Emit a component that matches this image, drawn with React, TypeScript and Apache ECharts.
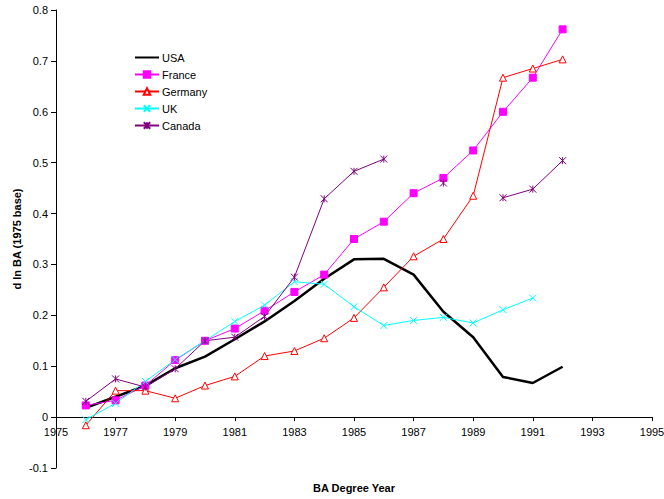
import React, { useEffect, useRef } from "react";
import * as echarts from "echarts";

const years = [1976, 1977, 1978, 1979, 1980, 1981, 1982, 1983, 1984, 1985, 1986, 1987, 1988, 1989, 1990, 1991, 1992];
const usa = [0.018, 0.04, 0.062, 0.096, 0.119, 0.153, 0.188, 0.228, 0.272, 0.31, 0.311, 0.28, 0.207, 0.157, 0.079, 0.067, 0.099];
const france = [0.023, 0.033, 0.062, 0.112, 0.15, 0.174, 0.209, 0.246, 0.28, 0.35, 0.384, 0.44, 0.47, 0.524, 0.6, 0.667, 0.762];
const germany = [-0.016, 0.052, 0.052, 0.037, 0.062, 0.08, 0.12, 0.13, 0.155, 0.195, 0.255, 0.316, 0.35, 0.435, 0.667, 0.685, 0.703];
const uk = [-0.005, 0.027, 0.07, 0.113, 0.15, 0.188, 0.22, 0.266, 0.261, 0.217, 0.18, 0.19, 0.196, 0.185, 0.211, 0.234, null];
const canada = [0.031, 0.075, 0.059, 0.095, 0.15, 0.157, 0.198, 0.275, 0.429, 0.483, 0.507, null, 0.46, null, 0.431, 0.448, 0.504];

const FONT = "'Liberation Sans', Arial, sans-serif";

const GRID_TOP = 10;
const GRID_BOTTOM = 31;
const CHART_H = 499;
const Y_MIN = -0.1;
const Y_MAX = 0.8;

function pairs(vals: (number | null)[]) {
  return years.map((y, i) => [y, vals[i] === null ? "-" : vals[i]]);
}

export default function App() {
  const ref = useRef<HTMLDivElement>(null);
  useEffect(() => {
    if (!ref.current) return;
    const chart = echarts.init(ref.current, undefined, { renderer: "svg" });
    const gridH = CHART_H - GRID_TOP - GRID_BOTTOM;
    const zeroOffset = -(gridH * (0 - Y_MIN)) / (Y_MAX - Y_MIN);
    const mk = (
      name: string,
      vals: (number | null)[],
      color: string,
      symbol: string,
      symbolSize: number,
      width: number,
      fill?: string
    ) => ({
      name,
      type: "line",
      data: pairs(vals),
      symbol,
      symbolSize,
      showSymbol: symbol !== "none",
      showAllSymbol: true,
      connectNulls: false,
      lineStyle: { color, width, type: "solid" },
      itemStyle: { color: fill ?? color, borderColor: color, borderWidth: 1, borderType: "solid" },
      emphasis: { disabled: true },
    });
    chart.setOption({
      animation: false,
      textStyle: { fontFamily: FONT },
      grid: { left: 56, right: 12, top: GRID_TOP, bottom: GRID_BOTTOM, containLabel: false, outerBoundsMode: "none" },
      legend: {
        orient: "vertical",
        left: 134,
        top: 52,
        padding: 0,
        itemWidth: 24,
        itemHeight: 8,
        itemGap: 6,
        textStyle: { fontFamily: FONT, fontSize: 11, color: "#000", lineHeight: 11, padding: [0, 0, 0, -2] },
        data: [
          { name: "USA", itemStyle: { opacity: 0 } },
          "France",
          "Germany",
          "UK",
          "Canada",
        ],
      },
      xAxis: {
        type: "value",
        min: 1975,
        max: 1995,
        interval: 2,
        position: "bottom",
        offset: zeroOffset,
        name: "BA Degree Year",
        nameLocation: "middle",
        nameGap: 65,
        nameMoveOverlap: false,
        nameTextStyle: { fontFamily: FONT, fontSize: 11, fontWeight: "bold", color: "#000" },
        axisLine: { onZero: false, lineStyle: { color: "#000", width: 1 } },
        axisTick: { show: true, inside: false, length: 4, lineStyle: { color: "#000" } },
        axisLabel: { fontFamily: FONT, fontSize: 11, color: "#000", margin: 9, formatter: (v: number) => String(v) },
        splitLine: { show: false },
      },
      yAxis: {
        type: "value",
        min: Y_MIN,
        max: Y_MAX,
        interval: 0.1,
        name: "d ln BA (1975 base)",
        nameLocation: "middle",
        nameGap: 34,
        nameMoveOverlap: false,
        nameTextStyle: { fontFamily: FONT, fontSize: 11, fontWeight: "bold", color: "#000" },
        axisLine: { show: true, onZero: false, lineStyle: { color: "#000", width: 1 } },
        axisTick: { show: true, inside: false, length: 5, lineStyle: { color: "#000" } },
        axisLabel: {
          fontFamily: FONT,
          fontSize: 11,
          color: "#000",
          margin: 8,
          formatter: (v: number) => String(Number(v.toFixed(1))),
        },
        splitLine: { show: false },
      },
      series: [
        mk("USA", usa, "#000000", "none", 0, 2.5),
        mk("France", france, "#ff00ff", "rect", 7, 1),
        mk("Germany", germany, "#ff0000", "triangle", 7, 1, "#ffffff"),
        mk("UK", uk, "#00ffff", "path://M0,0L10,10M10,0L0,10", 7, 1),
        mk("Canada", canada, "#800080", "path://M0,0L10,10M10,0L0,10M5,0L5,10", 7, 1),
      ],
    });
    return () => chart.dispose();
  }, []);
  return (
    <div
      ref={ref}
      style={{ position: "fixed", left: 0, top: 0, width: 664, height: 499, background: "#fff" }}
    />
  );
}
